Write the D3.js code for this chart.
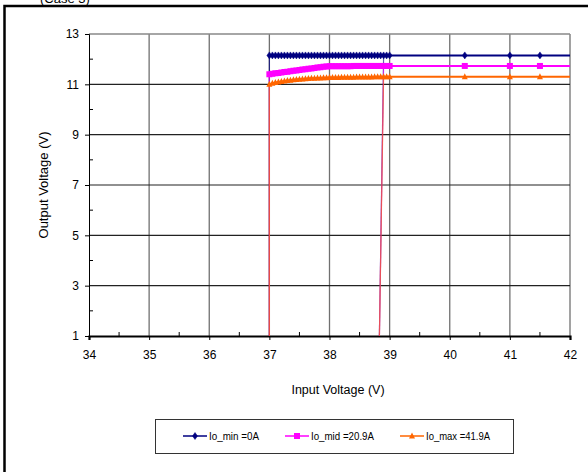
<!DOCTYPE html>
<html>
<head>
<meta charset="utf-8">
<script src="https://cdn.jsdelivr.net/npm/d3@7"></script>
<style>
  html, body { margin: 0; padding: 0; background: #fff; }
  svg { display: block; font-family: "Liberation Sans", Arial, sans-serif; }
</style>
</head>
<body>
<svg id="chart" width="588" height="472"></svg>
<script>
// ---- data ----
const inputV = [37.00, 37.05, 37.10, 37.15, 37.20, 37.25, 37.30, 37.35, 37.40, 37.45,
                37.50, 37.55, 37.60, 37.65, 37.70, 37.75, 37.80, 37.85, 37.90, 37.95,
                38.00, 38.05, 38.10, 38.15, 38.20, 38.25, 38.30, 38.35, 38.40, 38.45,
                38.50, 38.55, 38.60, 38.65, 38.70, 38.75, 38.80, 38.85, 38.90, 38.95,
                39.00, 40.25, 41.00, 41.50, 42.00];
const ioMin = [12.15, 12.15, 12.15, 12.15, 12.15, 12.15, 12.15, 12.15, 12.15, 12.15,
               12.15, 12.15, 12.15, 12.15, 12.15, 12.15, 12.15, 12.15, 12.15, 12.15,
               12.15, 12.15, 12.15, 12.15, 12.15, 12.15, 12.15, 12.15, 12.15, 12.15,
               12.15, 12.15, 12.15, 12.15, 12.15, 12.15, 12.15, 12.15, 12.15, 12.15,
               12.15, 12.15, 12.15, 12.15, 12.15];
const ioMid = [11.40, 11.42, 11.44, 11.45, 11.47, 11.49, 11.50, 11.52, 11.54, 11.55,
               11.57, 11.59, 11.60, 11.62, 11.63, 11.65, 11.67, 11.68, 11.70, 11.71,
               11.72, 11.72, 11.72, 11.72, 11.72, 11.72, 11.72, 11.72, 11.73, 11.73,
               11.73, 11.73, 11.73, 11.73, 11.73, 11.73, 11.73, 11.73, 11.73, 11.73,
               11.73, 11.73, 11.73, 11.73, 11.73];
const ioMax = [11.00, 11.04, 11.07, 11.09, 11.11, 11.13, 11.15, 11.16, 11.18, 11.19,
               11.20, 11.21, 11.22, 11.23, 11.24, 11.24, 11.25, 11.25, 11.26, 11.26,
               11.27, 11.27, 11.27, 11.27, 11.28, 11.28, 11.28, 11.28, 11.28, 11.29,
               11.29, 11.29, 11.29, 11.29, 11.29, 11.30, 11.30, 11.30, 11.30, 11.30,
               11.30, 11.30, 11.30, 11.30, 11.30];
// turn-on (rising edge) and turn-off (falling edge) input voltages
const turnOnV = 37.00;
const turnOffTopV = 38.90;
const turnOffBottomV = 38.83;
const offLevel = 1;
const seriesNames = ["Io_min =0A", "Io_mid =20.9A", "Io_max =41.9A"];
const seriesColors = ["#000080", "#FF00FF", "#FF6600"];
const seriesShapes = ["diamond", "square", "triangle"];
const xTicks = [34, 35, 36, 37, 38, 39, 40, 41, 42];
const yTicks = [1, 3, 5, 7, 9, 11, 13];
const xTitle = "Input Voltage (V)";
const yTitle = "Output Voltage (V)";

// ---- drawing ----
const svg = d3.select("#chart");
const x = d3.scaleLinear().domain([34, 42]).range([89, 570]);
const y = d3.scaleLinear().domain([1, 13]).range([336, 34]);

// outer frame (extends beyond the picture on right/bottom)
svg.append("rect").attr("x", 4.5).attr("y", 6).attr("width", 600).attr("height", 480)
  .attr("fill", "none").attr("stroke", "#000").attr("stroke-width", 2.5);
svg.append("text").attr("x", 40).attr("y", 3).attr("font-size", 13).text("(Case 3)");

// grid
const g = svg.append("g");
g.selectAll(".vg").data(xTicks.slice(1)).join("line")
  .attr("x1", d => x(d)).attr("x2", d => x(d)).attr("y1", y(13)).attr("y2", y(1))
  .attr("stroke", "#707070").attr("stroke-width", 1.3);
g.selectAll(".hg").data(yTicks.slice(1)).join("line")
  .attr("x1", x(34)).attr("x2", x(42)).attr("y1", d => y(d)).attr("y2", d => y(d))
  .attr("stroke", d => d === 13 ? "#888" : "#222").attr("stroke-width", d => d === 13 ? 1.5 : 1.1);

// axes
const yAxis = d3.axisLeft(y).tickValues(yTicks).tickSize(4).tickPadding(6);
const yG = svg.append("g").attr("transform", `translate(${x(34)},0)`).call(yAxis);
yG.select(".domain").attr("stroke", "#000").attr("stroke-width", 1);
yG.selectAll("text").attr("font-size", 12).attr("fill", "#000")
  .attr("font-family", "Liberation Sans, Arial, sans-serif");
// minor y ticks
svg.selectAll(".ymin").data([2, 4, 6, 8, 10, 12]).join("line")
  .attr("x1", x(34)).attr("x2", x(34) + 4).attr("y1", d => y(d)).attr("y2", d => y(d))
  .attr("stroke", "#000").attr("stroke-width", 1);

const xAxis = d3.axisBottom(x).tickValues(xTicks).tickSize(4).tickPadding(10);
const xG = svg.append("g").attr("transform", `translate(0,${y(1)})`).call(xAxis);
xG.select(".domain").attr("stroke", "#000").attr("stroke-width", 2.2);
xG.selectAll("text").attr("font-size", 12).attr("fill", "#000")
  .attr("font-family", "Liberation Sans, Arial, sans-serif");
svg.selectAll(".xmin").data([34.5, 35.5, 36.5, 37.5, 38.5, 39.5, 40.5, 41.5]).join("line")
  .attr("x1", d => x(d)).attr("x2", d => x(d)).attr("y1", y(1)).attr("y2", y(1) - 4)
  .attr("stroke", "#000").attr("stroke-width", 1);

// titles
svg.append("text").attr("x", 338).attr("y", 394).attr("text-anchor", "middle")
  .attr("font-size", 12.5).text(xTitle);
svg.append("text").attr("transform", `translate(48,185) rotate(-90)`)
  .attr("text-anchor", "middle").attr("font-size", 13).text(yTitle);

// series
const allValues = [ioMin, ioMid, ioMax];
const line = d3.line().x(d => x(d[0])).y(d => y(d[1]));

function marker(sel, shape, color, cx, cy) {
  if (shape === "diamond") {
    sel.append("path").attr("d", `M${cx},${cy - 3.5}L${cx + 2.5},${cy}L${cx},${cy + 3.5}L${cx - 2.5},${cy}Z`)
      .attr("fill", color).attr("stroke", color).attr("stroke-width", 0.5);
  } else if (shape === "square") {
    sel.append("rect").attr("x", cx - 3).attr("y", cy - 3).attr("width", 6).attr("height", 6)
      .attr("fill", color);
  } else {
    sel.append("path").attr("d", `M${cx},${cy - 3.5}L${cx + 3},${cy + 2.5}L${cx - 3},${cy + 2.5}Z`)
      .attr("fill", color);
  }
}

allValues.forEach((vals, i) => {
  const color = seriesColors[i];
  const pts = inputV.map((v, k) => [v, vals[k]]);
  const sg = svg.append("g");
  // rising edge
  sg.append("path").datum([[turnOnV, offLevel], pts[0]]).attr("d", line)
    .attr("fill", "none").attr("stroke", color).attr("stroke-width", 1.2).attr("opacity", 0.7);
  // sweep
  sg.append("path").datum(pts).attr("d", line)
    .attr("fill", "none").attr("stroke", color).attr("stroke-width", 2);
  // falling edge
  const topVal = vals[inputV.indexOf(turnOffTopV)];
  sg.append("path").datum([[turnOffTopV, topVal], [turnOffBottomV, offLevel]]).attr("d", line)
    .attr("fill", "none").attr("stroke", color).attr("stroke-width", 1.2).attr("opacity", 0.6);
  // markers (last point at plot edge has none)
  pts.slice(0, pts.length - 1).forEach(p => marker(sg, seriesShapes[i], color, x(p[0]), y(p[1])));
});

// legend
const lg = svg.append("g");
lg.append("rect").attr("x", 155.5).attr("y", 419.5).attr("width", 358).attr("height", 34)
  .attr("fill", "#fff").attr("stroke", "#333").attr("stroke-width", 1);
const legX = [183, 285, 400];
seriesNames.forEach((name, i) => {
  const lx = legX[i], ly = 436;
  lg.append("line").attr("x1", lx).attr("x2", lx + 24).attr("y1", ly).attr("y2", ly)
    .attr("stroke", seriesColors[i]).attr("stroke-width", 1.5);
  marker(lg, seriesShapes[i], seriesColors[i], lx + 12, ly);
  lg.append("text").attr("x", lx + 26).attr("y", ly + 4).attr("font-size", 10.5)
    .attr("textLength", i === 0 ? 50 : (i === 1 ? 63 : 64)).attr("lengthAdjust", "spacingAndGlyphs")
    .text(name);
});
</script>
</body>
</html>
